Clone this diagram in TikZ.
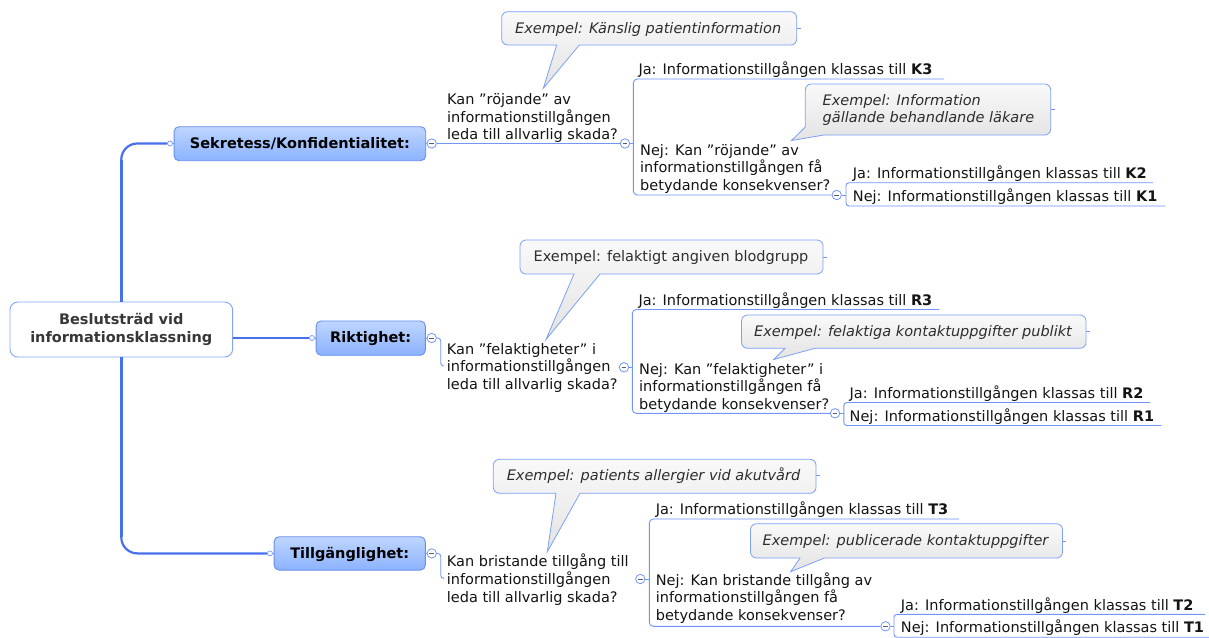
\documentclass[tikz,border=0pt]{standalone}
\usepackage{fontspec}
\setmainfont{DejaVu Sans}
\usetikzlibrary{calc}

\definecolor{linkblue}{RGB}{112,150,250}
\definecolor{trunkblue}{RGB}{72,112,238}
\definecolor{boxedge}{RGB}{104,142,236}
\definecolor{mainTop}{RGB}{190,213,255}
\definecolor{mainBot}{RGB}{140,179,255}
\definecolor{rootedge}{RGB}{130,165,250}
\definecolor{rootText}{RGB}{55,55,55}
\definecolor{calloutTop}{RGB}{249,249,249}
\definecolor{calloutBot}{RGB}{227,227,227}
\definecolor{calloutEdge}{RGB}{125,160,250}
\definecolor{minusGray}{RGB}{90,90,110}

\newcommand\topicfont{\fontsize{14.5}{17.7}\selectfont}

\tikzset{
  % multi-line topics are anchored at the baseline of their last line
  topic/.style={anchor=base west, inner sep=0pt, align=left, font=\topicfont, text=black!92},
  link/.style={draw=linkblue, line width=0.9pt},
  trunk/.style={draw=trunkblue, line width=2.2pt},
  mainbox/.style={draw=boxedge, line width=0.9pt, rounded corners=5pt,
    top color=mainTop, bottom color=mainBot, inner sep=0pt,
    text height=11.5pt, text depth=2pt, font=\topicfont\bfseries, text=black},
  rootbox/.style={draw=rootedge, fill=white, line width=0.9pt, rounded corners=8pt,
    minimum width=222.7pt, minimum height=55pt, inner sep=0pt, align=center,
    font=\fontsize{14.5}{17.5}\selectfont\bfseries, text=rootText},
  knob/.style={circle, draw=linkblue, fill=white, line width=0.8pt,
    minimum size=9.4pt, inner sep=0pt,
    path picture={\draw[minusGray, line width=0.7pt]
      ([xshift=-2.4pt]path picture bounding box.center) --
      ([xshift=2.4pt]path picture bounding box.center);}},
  enddot/.style={circle, draw=linkblue, fill=white, line width=0.7pt,
    minimum size=5pt, inner sep=0pt},
  balloon/.style={draw=calloutEdge, line width=0.8pt,
    top color=calloutTop, bottom color=calloutBot},
  calltext/.style={anchor=base, inner sep=0pt, font=\topicfont\itshape, text=black!82},
}

\begin{document}
\begin{tikzpicture}[x=1pt,y=-1pt]
\useasboundingbox (0,0) rectangle (1209,637);
\fill[white] (0,0) rectangle (1209,637);

% ---------- central topic and the three main branches ----------
\node[rootbox] (root) at (121.3,329.5) {Beslutsträd vid\\informationsklassning};

\node[mainbox, minimum width=251.7pt, minimum height=34pt] (sek) at (299.9,143.7) {Sekretess/Konfidentialitet:};
\node[mainbox, minimum width=109.3pt, minimum height=34.3pt] (rik) at (370.7,338.1) {Riktighet:};
\node[mainbox, minimum width=151.3pt, minimum height=33.3pt] (til) at (349.7,553.4) {Tillgänglighet:};

\node[enddot] (sekdot) at (170,143.5) {};
\node[enddot] (rikdot) at (312,338) {};
\node[enddot] (tildot) at (270,553.4) {};

\draw[trunk, rounded corners=16pt] (root.north) |- (sekdot.west);
\draw[trunk, line width=3pt] (root.north) -- ($(root.north |- sekdot)+(0,16)$);
\draw[trunk, rounded corners=16pt] (root.south) |- (tildot.west);
\draw[trunk, line width=3pt] (root.south) -- ($(root.south |- tildot)+(0,-16)$);
\draw[trunk, line width=1.8pt] (root.east |- rikdot) -- (rikdot.west);

\draw[link] (sekdot.east) -- (sek.west |- sekdot);
\draw[link] (rikdot.east) -- (rik.west |- rikdot);
\draw[link] (tildot.east) -- (til.west |- tildot);

\node[knob] (sekk) at (431.7,143.5) {};
\node[knob] (rikk) at (431.7,338) {};
\node[knob] (tilk) at (431.7,553.4) {};
\draw[link] (sek.east |- sekk) -- (sekk.west);
\draw[link] (rik.east |- rikk) -- (rikk.west);
\draw[link] (til.east |- tilk) -- (tilk.west);

% ---------- Sekretess ----------
\node[topic] (sq) at (447,139.9) {Kan ”röjande” av\\informationstillgången\\leda till allvarlig skada?};
\node[knob] (sqk) at (625,143.5) {};
\draw[link] (sekk.east) -- (sqk.west);

\path[balloon] (501.7,28) [rounded corners=6pt] -- (501.7,11.7) -- (796.7,11.7) -- (796.7,45)
  -- (700,45) [sharp corners] -- (579.3,45) -- (543.3,88.3) -- (556.7,45) -- (530,45)
  [rounded corners=6pt] -- (501.7,45) -- cycle;
\node[calltext] (ex1) at (648.2,33.3) {Exempel: Känslig patientinformation};
\coordinate (ex1r) at (796.7,28.3);
\draw[link] (ex1r) -- ++(3.8,0);

\node[topic] (sja) at (638.3,74.5) {Ja: Informationstillgången klassas till \textbf{K3}};
\node[topic] (snej) at (640,190.4) {Nej: Kan ”röjande” av\\informationstillgången få\\betydande konsekvenser?};
\node[knob] (snk) at (836.7,195) {};
\coordinate (sjaend) at (944,79);
\coordinate (sbr) at (633.3,143.5);
\draw[link] (sqk.east) -- (sbr);
\draw[link, rounded corners=4pt] (sjaend) -| (sbr |- snk) -- (snk.west);

\path[balloon] (805.3,110) [rounded corners=6pt] -- (805.3,84) -- (1050.7,84) -- (1050.7,135)
  -- (950,135) [sharp corners] -- (824,135) -- (791.5,140.5) -- (805.3,127) -- (805.3,120)
  [rounded corners=6pt] -- cycle;
\node[calltext, anchor=base west, align=left] (ex2) at (822.5,122.7) {Exempel: Information\\gällande behandlande läkare};
\coordinate (ex2r) at (1050.7,109.5);
\draw[link] (ex2r) -- ++(3.8,0);

\node[topic] (k2) at (852.7,178.3) {Ja: Informationstillgången klassas till \textbf{K2}};
\node[topic] (k1) at (852.7,201.3) {Nej: Informationstillgången klassas till \textbf{K1}};
\coordinate (k2end) at (1153,182.7);
\coordinate (k1end) at (1165,206);
\coordinate (kbr) at (846,195);
\draw[link] (snk.east) -- (kbr);
\draw[link, rounded corners=3pt] (k2end) -| (kbr |- k1end) -- (k1end);

% ---------- Riktighet ----------
\node[topic] (rq) at (446.7,389.4) {Kan ”felaktigheter” i\\informationstillgången\\leda till allvarlig skada?};
\coordinate (rqhook) at (444,366);
\draw[link, rounded corners=3pt] (rikk.east) -| ($(rqhook)+(-3.3,0)$) -- (rqhook);
\node[knob] (rqk) at (624,367.3) {};

\path[balloon] (520,257) [rounded corners=6pt] -- (520,240) -- (823,240) -- (823,274)
  -- (700,274) [sharp corners] -- (600,274) -- (546,339.5) -- (574,274) -- (550,274)
  [rounded corners=6pt] -- (520,274) -- cycle;
\node[calltext, font=\topicfont] (ex3) at (671,261.7) {Exempel: felaktigt angiven blodgrupp};
\coordinate (ex3r) at (823,257);
\draw[link] (ex3r) -- ++(3.8,0);

\node[topic] (rja) at (638.3,305) {Ja: Informationstillgången klassas till \textbf{R3}};
\node[topic] (rnej) at (639,409.4) {Nej: Kan ”felaktigheter” i\\informationstillgången få\\betydande konsekvenser?};
\node[knob] (rnk) at (835,413.3) {};
\coordinate (rjaend) at (939,309.5);
\coordinate (rbr) at (632.3,367.3);
\draw[link] (rqk.east) -- (rbr);
\draw[link, rounded corners=4pt] (rjaend) -| (rbr |- rnk) -- (rnk.west);

\path[balloon] (741.5,331) [rounded corners=6pt] -- (741.5,315) -- (1086,315) -- (1086,348.3)
  -- (950,348.3) [sharp corners] -- (815,348.3) -- (773.7,359.5) -- (785,348.3) -- (765,348.3)
  [rounded corners=6pt] -- (741.5,348.3) -- cycle;
\node[calltext] (ex4) at (913,336) {Exempel: felaktiga kontaktuppgifter publikt};
\coordinate (ex4r) at (1086,331);
\draw[link] (ex4r) -- ++(3.8,0);

\node[topic] (r2) at (849.5,398) {Ja: Informationstillgången klassas till \textbf{R2}};
\node[topic] (r1) at (849.5,421) {Nej: Informationstillgången klassas till \textbf{R1}};
\coordinate (r2end) at (1150,402.5);
\coordinate (r1end) at (1161,425.5);
\coordinate (rbr2) at (843.8,413.3);
\draw[link] (rnk.east) -- (rbr2);
\draw[link, rounded corners=3pt] (r2end) -| (rbr2 |- r1end) -- (r1end);

% ---------- Tillgänglighet ----------
\node[topic] (tq) at (446.7,602.1) {Kan bristande tillgång till\\informationstillgången\\leda till allvarlig skada?};
\coordinate (tqhook) at (444,578.3);
\draw[link, rounded corners=3pt] (tilk.east) -| ($(tqhook)+(-3.3,0)$) -- (tqhook);
\node[knob] (tqk) at (640.3,579) {};

\path[balloon] (493.3,476) [rounded corners=6pt] -- (493.3,459.3) -- (816,459.3) -- (816,493.3)
  -- (700,493.3) [sharp corners] -- (580,493.3) -- (547.3,551.7) -- (556,493.3) -- (520,493.3)
  [rounded corners=6pt] -- (493.3,493.3) -- cycle;
\node[calltext] (ex5) at (653.5,480.7) {Exempel: patients allergier vid akutvård};
\coordinate (ex5r) at (816,475.5);
\draw[link] (ex5r) -- ++(3.8,0);

\node[topic] (tja) at (655.6,514) {Ja: Informationstillgången klassas till \textbf{T3}};
\node[topic] (tnej) at (655.6,620.4) {Nej: Kan bristande tillgång av\\informationstillgången få\\betydande konsekvenser?};
\node[knob] (tnk) at (885.5,626.3) {};
\coordinate (tjaend) at (959,519);
\coordinate (tbr) at (649.3,579);
\draw[link] (tqk.east) -- (tbr);
\draw[link, rounded corners=4pt] (tjaend) -| (tbr |- tnk) -- (tnk.west);

\path[balloon] (750.5,541) [rounded corners=6pt] -- (750.5,523.7) -- (1062.5,523.7) -- (1062.5,558)
  -- (950,558) [sharp corners] -- (824.4,558) -- (790.6,571.7) -- (800,558) -- (775,558)
  [rounded corners=6pt] -- (750.5,558) -- cycle;
\node[calltext] (ex6) at (905.5,545) {Exempel: publicerade kontaktuppgifter};
\coordinate (ex6r) at (1062.5,541);
\draw[link] (ex6r) -- ++(3.8,0);

\node[topic] (t2) at (900.7,610) {Ja: Informationstillgången klassas till \textbf{T2}};
\node[topic] (t1) at (900.7,632.7) {Nej: Informationstillgången klassas till \textbf{T1}};
\coordinate (t2end) at (1205,614.3);
\coordinate (t1end) at (1209,637.2);
\coordinate (tbr2) at (894,626.3);
\draw[link] (tnk.east) -- (tbr2);
\draw[link, rounded corners=3pt] (t2end) -| (tbr2 |- t1end) -- (t1end);
\end{tikzpicture}
\end{document}
